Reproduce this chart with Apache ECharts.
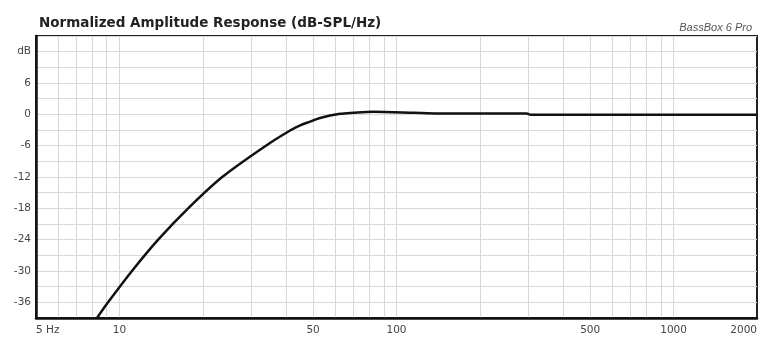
<!DOCTYPE html>
<html>
<head>
<meta charset="utf-8">
<script src="https://cdn.jsdelivr.net/npm/echarts@6/dist/echarts.min.js"></script>
<style>
  html, body { margin: 0; padding: 0; background: #fff; }
  #chart { width: 768px; height: 338px; }
</style>
</head>
<body>
<div id="chart"></div>
<script>
// response curve (Hz, dB)
const freqs = [8.3, 9.1, 11.1, 13.8, 17.7, 23.5, 33.8, 41.3, 44.9, 48.8, 53, 62.6, 69.7, 82.3, 115, 140, 295, 305, 500, 1000, 2000];
const levels = [-39, -36, -30, -24, -18, -12, -6, -3.1, -2.1, -1.4, -0.7, 0.1, 0.3, 0.5, 0.3, 0.15, 0.15, -0.1, -0.1, -0.1, -0.1];

// vertical grid lines and x labels
const gridFreqs = [6, 7, 8, 9, 10, 20, 30, 40, 50, 60, 70, 80, 90, 100, 200, 300, 400, 500, 600, 700, 800, 900, 1000];
const labelFreqs = [5, 10, 50, 100, 500, 1000, 2000];

const chart = echarts.init(document.getElementById('chart'));

const option = {
  backgroundColor: '#fff',
  animation: false,
  title: [
    {
      text: 'Normalized Amplitude Response (dB-SPL/Hz)',
      left: 34,
      top: 11,
      textStyle: { fontFamily: 'DejaVu Sans', fontSize: 13.5, fontWeight: 'bold', color: '#222' }
    },
    {
      text: 'BassBox 6 Pro',
      right: 11,
      top: 17,
      textStyle: { fontFamily: 'Liberation Sans', fontSize: 11, fontStyle: 'italic', fontWeight: 'normal', color: '#555' }
    }
  ],
  grid: {
    left: 36, right: 11, top: 36, bottom: 20,
    show: true,
    borderColor: '#222',
    borderWidth: 2
  },
  xAxis: {
    type: 'log',
    logBase: 10,
    min: 5,
    max: 2000,
    axisLine: { show: true, onZero: false, lineStyle: { color: '#111', width: 2.5 } },
    axisTick: { show: false, customValues: gridFreqs },
    splitLine: { show: true, lineStyle: { color: '#d8d8d8', width: 1 } },
    axisLabel: {
      customValues: labelFreqs,
      margin: 7,
      fontFamily: 'DejaVu Sans',
      fontSize: 10.5,
      color: '#444',
      alignMinLabel: 'left',
      alignMaxLabel: 'right',
      formatter: v => (v === 5 ? '5 Hz' : String(v))
    }
  },
  yAxis: {
    type: 'value',
    min: -39,
    max: 15,
    interval: 3,
    axisLine: { show: true, onZero: false, lineStyle: { color: '#111', width: 2.5 } },
    axisTick: { show: false },
    splitLine: { show: true, lineStyle: { color: '#d8d8d8', width: 1 } },
    axisLabel: {
      margin: 5,
      fontFamily: 'DejaVu Sans',
      fontSize: 10.5,
      color: '#444',
      formatter: v => {
        if (v === 12) return 'dB';
        if (v % 6 !== 0 || v > 12 || v < -36) return '';
        return String(v);
      }
    }
  },
  series: [
    {
      type: 'line',
      data: freqs.map((f, i) => [f, levels[i]]),
      showSymbol: false,
      smooth: 0.3,
      lineStyle: { color: '#111', width: 2.5 },
      clip: true
    }
  ]
};

chart.setOption(option);
</script>
</body>
</html>
